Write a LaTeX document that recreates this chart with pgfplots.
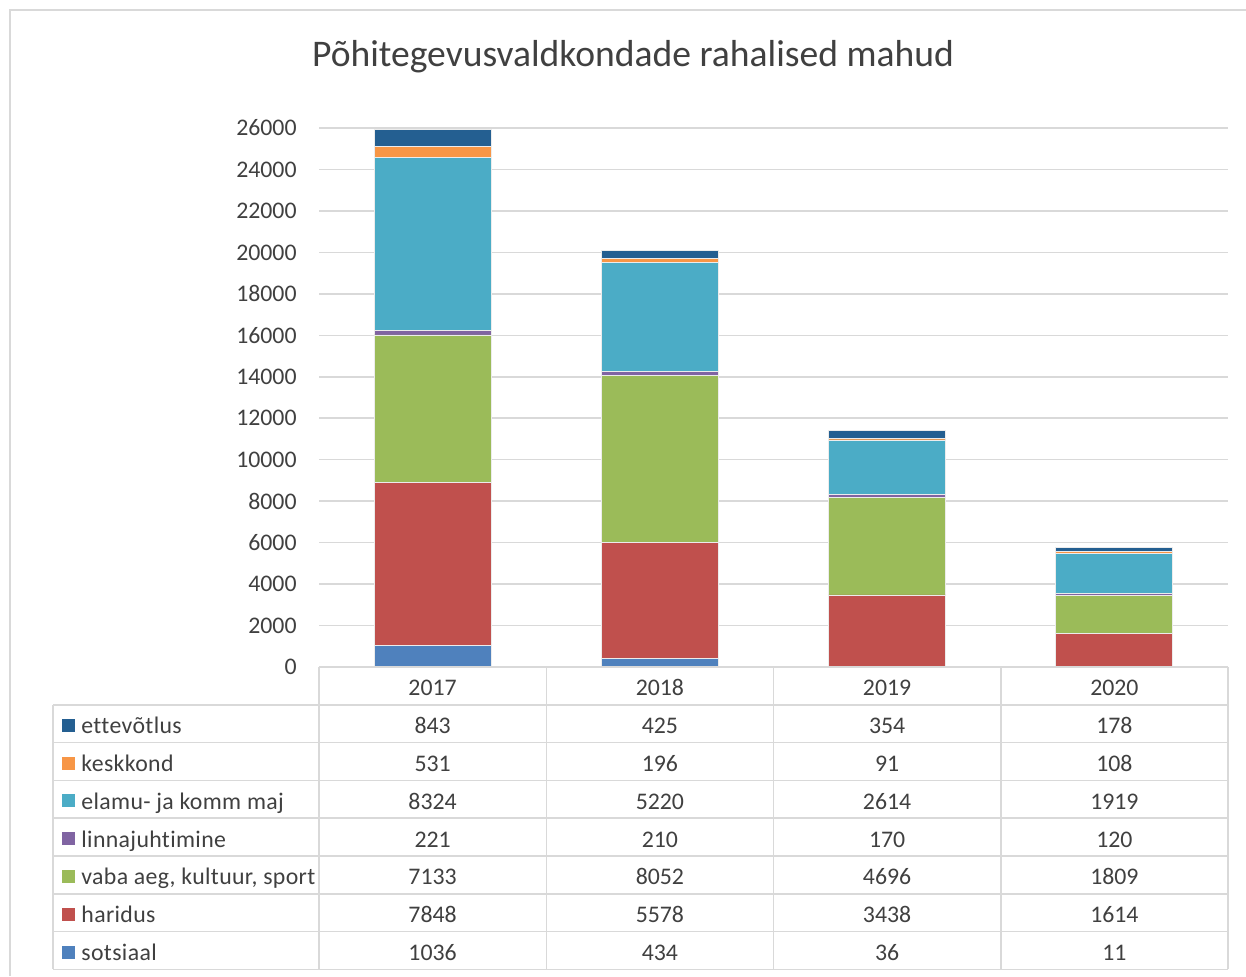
\documentclass[border=0pt]{standalone}
\usepackage{fontspec}
\setmainfont{Carlito}
\usepackage{pgfplots}
\pgfplotsset{compat=1.18}
\definecolor{cSots}{HTML}{4F81BD}
\definecolor{cHar}{HTML}{C0504D}
\definecolor{cVaba}{HTML}{9BBB59}
\definecolor{cLinn}{HTML}{8064A2}
\definecolor{cElamu}{HTML}{4BACC6}
\definecolor{cKesk}{HTML}{F79646}
\definecolor{cEtte}{HTML}{245F91}
\definecolor{gridgray}{HTML}{D9D9D9}
\definecolor{textgray}{HTML}{404040}
\newcommand{\tfont}{\fontsize{11.9}{13.5}\selectfont}
\newcommand{\tabrow}[7]{%
  \pgfmathsetmacro\yb{667+37.8*#1+18.9+10}
  \fill[#2] (62,{\yb-15}) rectangle (75,{\yb-2});
  \node[anchor=base west, inner sep=0pt, text=textgray, font=\tfont] at (81,\yb) {\addfontfeatures{LetterSpace=1.5,Ligatures=NoCommon}#3};
  \node[anchor=base, inner sep=0pt, text=textgray, font=\tfont] at (432.6,\yb) {#4};
  \node[anchor=base, inner sep=0pt, text=textgray, font=\tfont] at (659.9,\yb) {#5};
  \node[anchor=base, inner sep=0pt, text=textgray, font=\tfont] at (887.1,\yb) {#6};
  \node[anchor=base, inner sep=0pt, text=textgray, font=\tfont] at (1114.4,\yb) {#7};
}
\begin{document}
\begin{tikzpicture}
\path[use as bounding box] (0,0) rectangle (623pt,-488pt);
\begin{axis}[
  at={(159.5pt,-333.5pt)}, anchor=south west,
  scale only axis, width=454.5pt, height=269.5pt,
  ybar stacked, bar width=58.5pt,
  xmin=-0.5, xmax=3.5, ymin=0, ymax=26000,
  xtick=\empty,
  ytick={0,2000,...,26000},
  ymajorgrids, grid style={draw=gridgray, line width=0.75pt},
  axis line style={draw=none},
  major tick length=0pt,
  yticklabel style={font=\tfont, text=textgray, inner sep=0pt, xshift=-11pt},
  /pgf/number format/assume math mode=true,
  /pgf/number format/1000 sep={},
  scaled y ticks=false,
  clip=false,
]
\addplot[fill=cSots, draw=white!85!gray, line width=0.4pt] coordinates {(0,1036) (1,434) (2,36) (3,11)};
\addplot[fill=cHar, draw=white!85!gray, line width=0.4pt] coordinates {(0,7848) (1,5578) (2,3438) (3,1614)};
\addplot[fill=cVaba, draw=white!85!gray, line width=0.4pt] coordinates {(0,7133) (1,8052) (2,4696) (3,1809)};
\addplot[fill=cLinn, draw=white!85!gray, line width=0.4pt] coordinates {(0,221) (1,210) (2,170) (3,120)};
\addplot[fill=cElamu, draw=white!85!gray, line width=0.4pt] coordinates {(0,8324) (1,5220) (2,2614) (3,1919)};
\addplot[fill=cKesk, draw=white!85!gray, line width=0.4pt] coordinates {(0,531) (1,196) (2,91) (3,108)};
\addplot[fill=cEtte, draw=white!85!gray, line width=0.4pt] coordinates {(0,843) (1,425) (2,354) (3,178)};
\end{axis}
\begin{scope}[x=0.5pt, y=-0.5pt]
  % outer border
  \draw[gridgray, line width=0.75pt] (10,976) -- (10,10) -- (1246,10);
  % title
  \node[anchor=base, inner sep=0pt, text=textgray, font=\fontsize{18.8}{22}\selectfont] at (633,66) {Põhitegevusvaldkondade rahalised mahud};
  % table grid
  \draw[gridgray, line width=0.75pt] (319,667) -- (1228,667);
  \foreach \k in {1,...,8} {
    \draw[gridgray, line width=0.75pt] (53,{667+37.8*\k}) -- (1228,{667+37.8*\k});
  }
  \draw[gridgray, line width=0.75pt] (53,704.8) -- (53,969.4);
  \foreach \xx in {319,546.25,773.5,1000.75,1228} {
    \draw[gridgray, line width=0.75pt] (\xx,667) -- (\xx,969.4);
  }
  % header
  \foreach \xx/\yr in {432.6/2017,659.9/2018,887.1/2019,1114.4/2020} {
    \node[anchor=base, inner sep=0pt, text=textgray, font=\tfont] at (\xx,{667+18.9+10}) {\yr};
  }
  \tabrow{1}{cEtte}{ettevõtlus}{843}{425}{354}{178}
  \tabrow{2}{cKesk}{keskkond}{531}{196}{91}{108}
  \tabrow{3}{cElamu}{elamu- ja komm maj}{8324}{5220}{2614}{1919}
  \tabrow{4}{cLinn}{linnajuhtimine}{221}{210}{170}{120}
  \tabrow{5}{cVaba}{vaba aeg, kultuur, sport}{7133}{8052}{4696}{1809}
  \tabrow{6}{cHar}{haridus}{7848}{5578}{3438}{1614}
  \tabrow{7}{cSots}{sotsiaal}{1036}{434}{36}{11}
\end{scope}
\end{tikzpicture}
\end{document}
